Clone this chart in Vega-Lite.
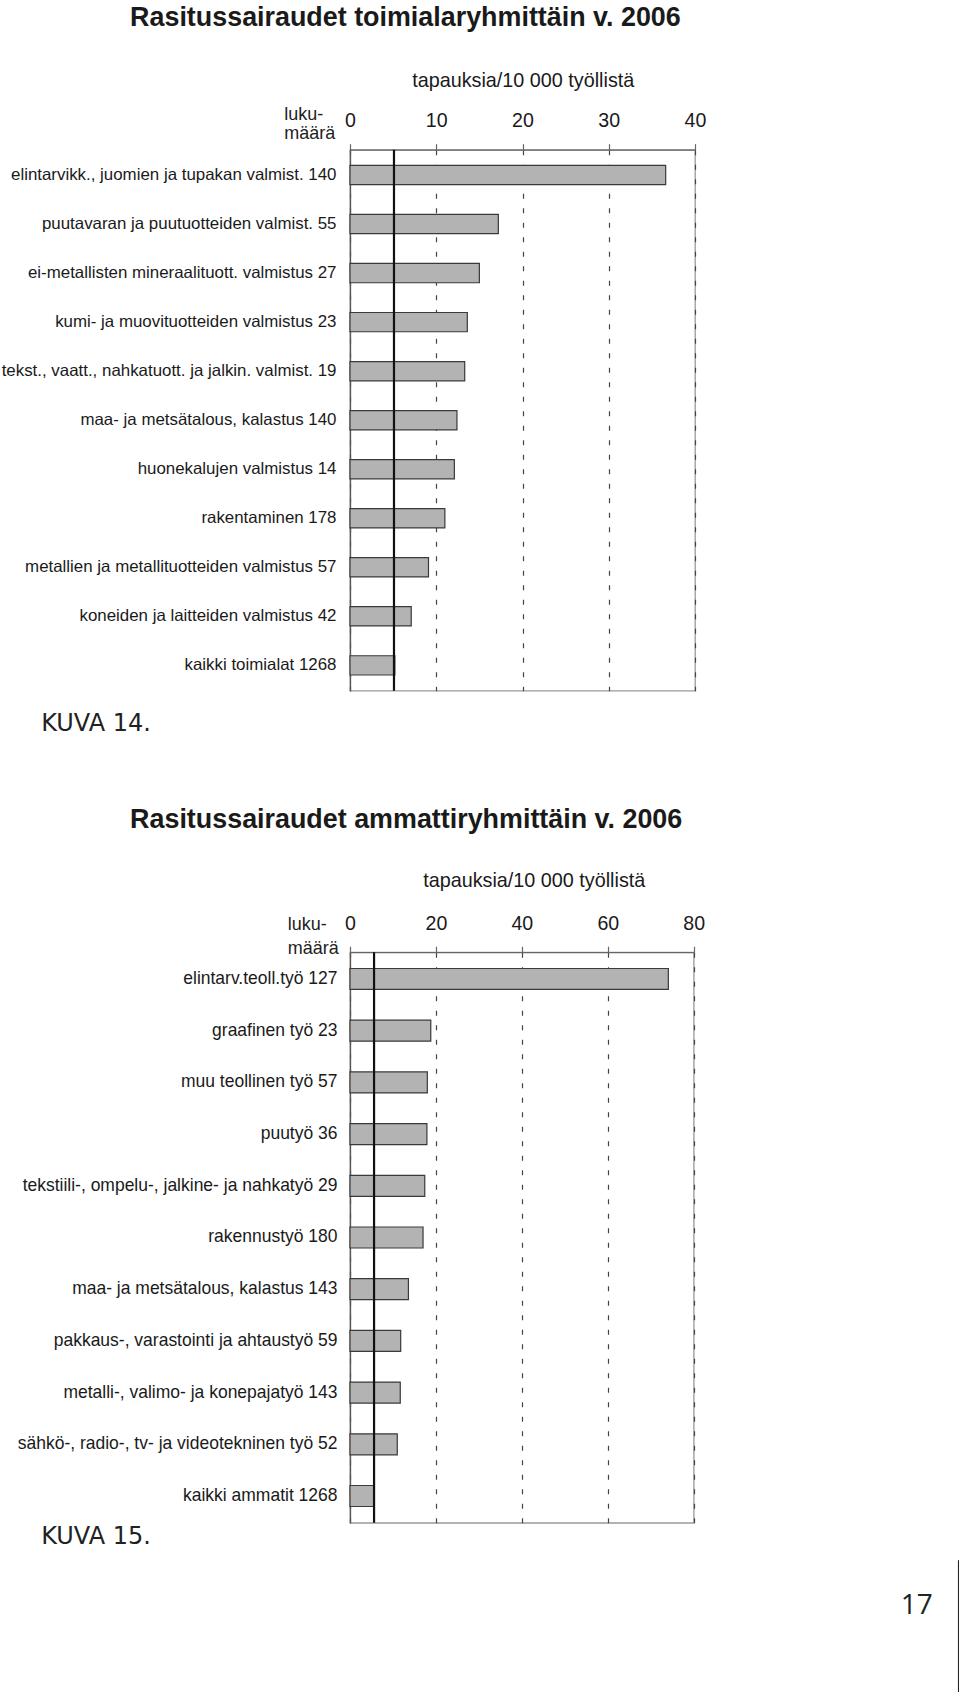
{
  "$schema": "https://vega.github.io/schema/vega-lite/v6.json",
  "background": "white",
  "padding": {"left": 0, "top": 2.7, "right": 0, "bottom": 0},
  "spacing": 10.5,
  "datasets": {
    "toimiala": [
      {"ryhma": "elintarvikk., juomien ja tupakan valmist. 140", "tapauksia": 36.6},
      {"ryhma": "puutavaran ja puutuotteiden valmist. 55", "tapauksia": 17.2},
      {"ryhma": "ei-metallisten mineraalituott. valmistus 27", "tapauksia": 15.0},
      {"ryhma": "kumi- ja muovituotteiden valmistus 23", "tapauksia": 13.6},
      {"ryhma": "tekst., vaatt., nahkatuott. ja jalkin. valmist. 19", "tapauksia": 13.3},
      {"ryhma": "maa- ja metsätalous, kalastus 140", "tapauksia": 12.4},
      {"ryhma": "huonekalujen valmistus 14", "tapauksia": 12.1},
      {"ryhma": "rakentaminen 178", "tapauksia": 11.0},
      {"ryhma": "metallien ja metallituotteiden valmistus 57", "tapauksia": 9.1},
      {"ryhma": "koneiden ja laitteiden valmistus 42", "tapauksia": 7.1},
      {"ryhma": "kaikki toimialat 1268", "tapauksia": 5.2}
    ],
    "ammatti": [
      {"ryhma": "elintarv.teoll.työ 127", "tapauksia": 74.1},
      {"ryhma": "graafinen työ 23", "tapauksia": 18.8},
      {"ryhma": "muu teollinen työ 57", "tapauksia": 18.0},
      {"ryhma": "puutyö 36", "tapauksia": 17.9},
      {"ryhma": "tekstiili-, ompelu-, jalkine- ja nahkatyö 29", "tapauksia": 17.4},
      {"ryhma": "rakennustyö 180", "tapauksia": 17.0},
      {"ryhma": "maa- ja metsätalous, kalastus 143", "tapauksia": 13.6},
      {"ryhma": "pakkaus-, varastointi ja ahtaustyö 59", "tapauksia": 11.8},
      {"ryhma": "metalli-, valimo- ja konepajatyö 143", "tapauksia": 11.7},
      {"ryhma": "sähkö-, radio-, tv- ja videotekninen työ 52", "tapauksia": 11.0},
      {"ryhma": "kaikki ammatit 1268", "tapauksia": 5.5}
    ],
    "ka_toimiala": [{"kaikki": 5.1}],
    "ka_ammatti": [{"kaikki": 5.6}],
    "sivu": [{"sivu": "17"}]
  },
  "vconcat": [
    {
      "width": 345,
      "height": 541,
      "title": {"text": "Rasitussairaudet toimialaryhmittäin v. 2006", "anchor": "start", "frame": "group", "dx": -219.9, "baseline": "middle", "offset": 25.9, "font": "Liberation Sans", "fontSize": 26.9, "fontWeight": "bold", "color": "#1a1a1a"},
      "resolve": {"axis": {"x": "independent"}},
      "layer": [
        {
          "data": {"name": "toimiala"},
          "mark": {"type": "bar", "fill": "#b3b3b3", "stroke": "#3a3a3a", "strokeWidth": 1.2},
          "encoding": {
            "y": {"field": "ryhma", "type": "nominal", "sort": null,
              "scale": {"paddingInner": 0.607, "paddingOuter": 0.32},
              "axis": {"title": ["luku-", "määrä"], "titleAngle": 0, "titleAlign": "left", "titleBaseline": "top", "titleX": -66.3, "titleY": -44.5, "titleLineHeight": 19.5, "titleFont": "Liberation Sans", "titleFontSize": 18, "titleFontWeight": "normal", "titleColor": "#222",
                "labelFont": "Liberation Sans", "labelFontSize": 16.9, "labelColor": "#1a1a1a", "labelPadding": 14, "labelLimit": 600,
                "ticks": false, "domain": true, "domainColor": "#555", "domainWidth": 1.3, "grid": false}},
            "x": {"field": "tapauksia", "type": "quantitative",
              "scale": {"domain": [0, 40], "nice": false},
              "axis": {"orient": "top", "values": [0, 10, 20, 30, 40], "title": "tapauksia/10 000 työllistä", "titleX": 172.7, "titleY": -69, "titleAlign": "center", "titleBaseline": "middle", "titleFont": "Liberation Sans", "titleFontSize": 19.8, "titleFontWeight": "normal", "titleColor": "#1a1a1a",
                "labelFont": "Liberation Sans", "labelFontSize": 19.6, "labelColor": "#1a1a1a", "labelPadding": 13, "labelFlush": false, "labelOverlap": false,
                "ticks": true, "tickSize": 6, "tickColor": "#666", "tickWidth": 1.2,
                "domain": true, "domainColor": "#666", "domainWidth": 1.3,
                "grid": true, "gridColor": "#444", "gridDash": [5, 9.5], "gridWidth": 1.2}}
          }
        },
        {
          "data": {"name": "ka_toimiala"},
          "mark": {"type": "rule", "color": "#111", "strokeWidth": 2.2},
          "encoding": {
            "x": {"field": "kaikki", "type": "quantitative",
              "scale": {"domain": [0, 40], "nice": false},
              "axis": {"orient": "bottom", "labels": false, "ticks": false, "domain": false, "grid": false,
                "title": ["KUVA 14.", ""], "titleX": -309.3, "titleY": 20.4, "titleAlign": "left", "titleBaseline": "top", "titleLineHeight": 57.6,
                "titleFont": "DejaVu Sans", "titleFontSize": 24, "titleFontWeight": "normal", "titleColor": "#222"}}
          }
        }
      ]
    },
    {
      "width": 343.7,
      "height": 570.6,
      "title": {"text": "Rasitussairaudet ammattiryhmittäin v. 2006", "anchor": "start", "frame": "group", "dx": -219.9, "baseline": "middle", "offset": 23.9, "font": "Liberation Sans", "fontSize": 26.9, "fontWeight": "bold", "color": "#1a1a1a"},
      "resolve": {"axis": {"x": "independent"}},
      "layer": [
        {
          "data": {"name": "ammatti"},
          "mark": {"type": "bar", "fill": "#b3b3b3", "stroke": "#3a3a3a", "strokeWidth": 1.2},
          "encoding": {
            "y": {"field": "ryhma", "type": "nominal", "sort": null,
              "scale": {"paddingInner": 0.594, "paddingOuter": 0.315},
              "axis": {"title": ["luku-", "määrä"], "titleAngle": 0, "titleAlign": "left", "titleBaseline": "top", "titleX": -62.8, "titleY": -37.1, "titleLineHeight": 24.8, "titleFont": "Liberation Sans", "titleFontSize": 18, "titleFontWeight": "normal", "titleColor": "#222",
                "labelFont": "Liberation Sans", "labelFontSize": 17.5, "labelColor": "#1a1a1a", "labelPadding": 13, "labelLimit": 600,
                "ticks": false, "domain": true, "domainColor": "#555", "domainWidth": 1.3, "grid": false}},
            "x": {"field": "tapauksia", "type": "quantitative",
              "scale": {"domain": [0, 80], "nice": false},
              "axis": {"orient": "top", "values": [0, 20, 40, 60, 80], "title": "tapauksia/10 000 työllistä", "titleX": 183.7, "titleY": -71.7, "titleAlign": "center", "titleBaseline": "middle", "titleFont": "Liberation Sans", "titleFontSize": 19.8, "titleFontWeight": "normal", "titleColor": "#1a1a1a",
                "labelFont": "Liberation Sans", "labelFontSize": 19.6, "labelColor": "#1a1a1a", "labelPadding": 13, "labelFlush": false, "labelOverlap": false,
                "ticks": true, "tickSize": 6, "tickColor": "#666", "tickWidth": 1.2,
                "domain": true, "domainColor": "#666", "domainWidth": 1.3,
                "grid": true, "gridColor": "#444", "gridDash": [5, 9.5], "gridWidth": 1.2}}
          }
        },
        {
          "data": {"name": "ka_ammatti"},
          "mark": {"type": "rule", "color": "#111", "strokeWidth": 2.2},
          "encoding": {
            "x": {"field": "kaikki", "type": "quantitative",
              "scale": {"domain": [0, 80], "nice": false},
              "axis": {"orient": "bottom", "labels": false, "ticks": false, "domain": false, "grid": false,
                "title": "KUVA 15.", "titleX": -309.3, "titleY": 1.4, "titleAlign": "left", "titleBaseline": "top",
                "titleFont": "DejaVu Sans", "titleFontSize": 24, "titleFontWeight": "normal", "titleColor": "#222"}}
          }
        }
      ]
    },
    {
      "width": 608.2,
      "height": 133,
      "view": {"stroke": null},
      "data": {"name": "sivu"},
      "mark": {"type": "text", "font": "Open Sans", "fontSize": 28, "color": "#222", "align": "center", "baseline": "middle"},
      "encoding": {
        "text": {"field": "sivu", "type": "nominal"},
        "x": {"datum": 0.9318, "type": "quantitative", "scale": {"domain": [0, 1], "nice": false, "zero": false}, "axis": null},
        "y": {"datum": 0.655, "type": "quantitative", "scale": {"domain": [0, 1], "nice": false, "zero": false},
          "axis": {"orient": "right", "domain": true, "domainColor": "#222", "domainWidth": 1.5, "labels": false, "ticks": false, "grid": false, "title": null}}
      }
    }
  ],
  "config": {
    "view": {"stroke": "#9a9a9a", "strokeWidth": 1.3},
    "font": "Liberation Sans"
  }
}
